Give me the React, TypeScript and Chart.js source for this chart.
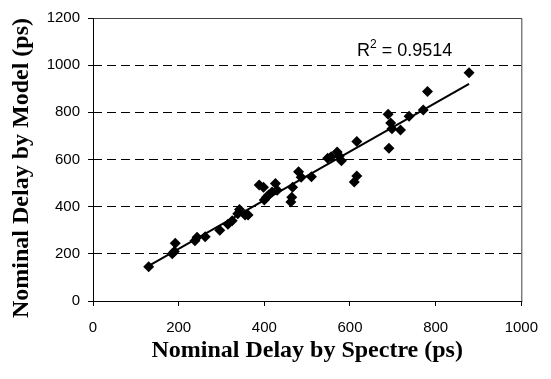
import React, { useEffect, useRef } from "react";
import { Chart, registerables } from "chart.js";

Chart.register(...registerables);

const spectreDelay = [130, 185, 190, 192, 238, 243, 262, 296, 315, 325, 338, 342, 355, 362, 388, 398, 400, 405, 410, 418, 426, 430, 462, 464, 466, 480, 486, 510, 548, 556, 570, 575, 580, 610, 616, 616, 689, 691, 695, 698, 718, 738, 771, 781, 878];
const modelDelay = [145, 200, 210, 245, 255, 270, 272, 300, 325, 340, 370, 388, 365, 365, 492, 482, 428, 440, 450, 462, 498, 470, 420, 440, 482, 548, 525, 527, 605, 612, 632, 615, 595, 505, 530, 676, 792, 648, 755, 730, 725, 783, 810, 888, 968];
const xTicks = [0, 200, 400, 600, 800, 1000];
const yTicks = [0, 200, 400, 600, 800, 1000, 1200];
const rSquaredLabel = "0.9514";
const xTitle = "Nominal Delay by Spectre (ps)";
const yTitle = "Nominal Delay by Model (ps)";

function linearFit(xs: number[], ys: number[]) {
  const n = xs.length;
  let sx = 0, sy = 0, sxx = 0, sxy = 0;
  for (let i = 0; i < n; i++) {
    sx += xs[i]; sy += ys[i]; sxx += xs[i] * xs[i]; sxy += xs[i] * ys[i];
  }
  const slope = (n * sxy - sx * sy) / (n * sxx - sx * sx);
  const intercept = (sy - slope * sx) / n;
  return { slope, intercept };
}

export default function App() {
  const ref = useRef<HTMLCanvasElement | null>(null);
  useEffect(() => {
    if (!ref.current) return;
    const pts = spectreDelay.map((x, i) => ({ x, y: modelDelay[i] }));
    const { slope, intercept } = linearFit(spectreDelay, modelDelay);
    const xmin = Math.min(...spectreDelay);
    const xmax = Math.max(...spectreDelay);
    const trend = [
      { x: xmin, y: slope * xmin + intercept },
      { x: xmax, y: slope * xmax + intercept },
    ];

    const decor = {
      id: "decor",
      afterDraw(chart: any) {
        const { ctx, chartArea } = chart;
        const { left, right, top, bottom } = chartArea;
        ctx.save();
        ctx.setLineDash([]);
        ctx.lineWidth = 1;
        ctx.strokeStyle = "#404040";
        ctx.beginPath();
        ctx.moveTo(left, top + 0.5);
        ctx.lineTo(right + 0.5, top + 0.5);
        ctx.lineTo(right + 0.5, bottom);
        ctx.stroke();
        ctx.strokeStyle = "#000";
        ctx.beginPath();
        ctx.moveTo(left + 0.5, top);
        ctx.lineTo(left + 0.5, bottom + 0.5);
        ctx.lineTo(right + 1, bottom + 0.5);
        ctx.stroke();

        // R^2 label
        ctx.fillStyle = "#000";
        ctx.textBaseline = "alphabetic";
        ctx.textAlign = "left";
        let tx = 357;
        const ty = 56;
        ctx.font = "18px 'Liberation Sans', Arial, sans-serif";
        ctx.fillText("R", tx, ty);
        tx += ctx.measureText("R").width;
        ctx.font = "12px 'Liberation Sans', Arial, sans-serif";
        ctx.fillText("2", tx, ty - 8);
        tx += ctx.measureText("2").width;
        ctx.font = "18px 'Liberation Sans', Arial, sans-serif";
        ctx.fillText(" = " + rSquaredLabel, tx, ty);

        // axis titles
        ctx.font = "bold 24px 'Liberation Serif', 'Times New Roman', serif";
        ctx.textAlign = "center";
        ctx.textBaseline = "middle";
        ctx.fillText(xTitle, (left + right) / 2, 351);
        ctx.translate(22, 168);
        ctx.rotate(-Math.PI / 2);
        ctx.fillText(yTitle, 0, 0);
        ctx.restore();
      },
    };

    const chart = new Chart(ref.current, {
      type: "scatter",
      data: {
        datasets: [
          {
            label: "data",
            data: pts,
            pointStyle: "rectRot",
            pointRadius: 5.5,
            pointBackgroundColor: "#000",
            pointBorderColor: "#000",
            pointBorderWidth: 0,
            showLine: false,
            order: 1,
          },
          {
            label: "trend",
            data: trend,
            showLine: true,
            borderColor: "#000",
            borderWidth: 2,
            pointRadius: 0,
            order: 2,
          } as any,
        ],
      },
      options: {
        animation: false,
        responsive: false,
        devicePixelRatio: 1,
        layout: { padding: { top: 18, right: 17, left: 0, bottom: 0 } },
        plugins: { legend: { display: false }, tooltip: { enabled: false } },
        scales: {
          x: {
            type: "linear",
            min: 0,
            max: 1000,
            afterBuildTicks: (s: any) => { s.ticks = xTicks.map((v) => ({ value: v })); },
            afterFit: (s: any) => { s.height = 78; },
            grid: { display: true, drawOnChartArea: false, drawTicks: true, tickLength: 5, color: "#000" },
            border: { display: false },
            ticks: {
              color: "#000",
              padding: 13,
              maxRotation: 0,
              callback: (v: any) => String(v),
              font: { family: "'Liberation Sans', Arial, sans-serif", size: 15 },
            },
          },
          y: {
            type: "linear",
            min: 0,
            max: 1200,
            afterBuildTicks: (s: any) => { s.ticks = yTicks.map((v) => ({ value: v })); },
            afterFit: (s: any) => { s.width = 93; },
            grid: { color: "#000", lineWidth: 1, drawTicks: true, tickLength: 5, tickColor: "#000", tickBorderDash: [] },
            border: { display: false, dash: [9, 5] },
            ticks: {
              color: "#000",
              padding: 8,
              callback: (v: any) => String(v),
              font: { family: "'Liberation Sans', Arial, sans-serif", size: 15 },
            },
          },
        },
      },
      plugins: [decor],
    });
    return () => chart.destroy();
  }, []);
  return (
    <div style={{ position: "fixed", left: 0, top: 0, width: 551, height: 379, background: "#fff" }}>
      <canvas ref={ref} width={551} height={379} />
    </div>
  );
}
